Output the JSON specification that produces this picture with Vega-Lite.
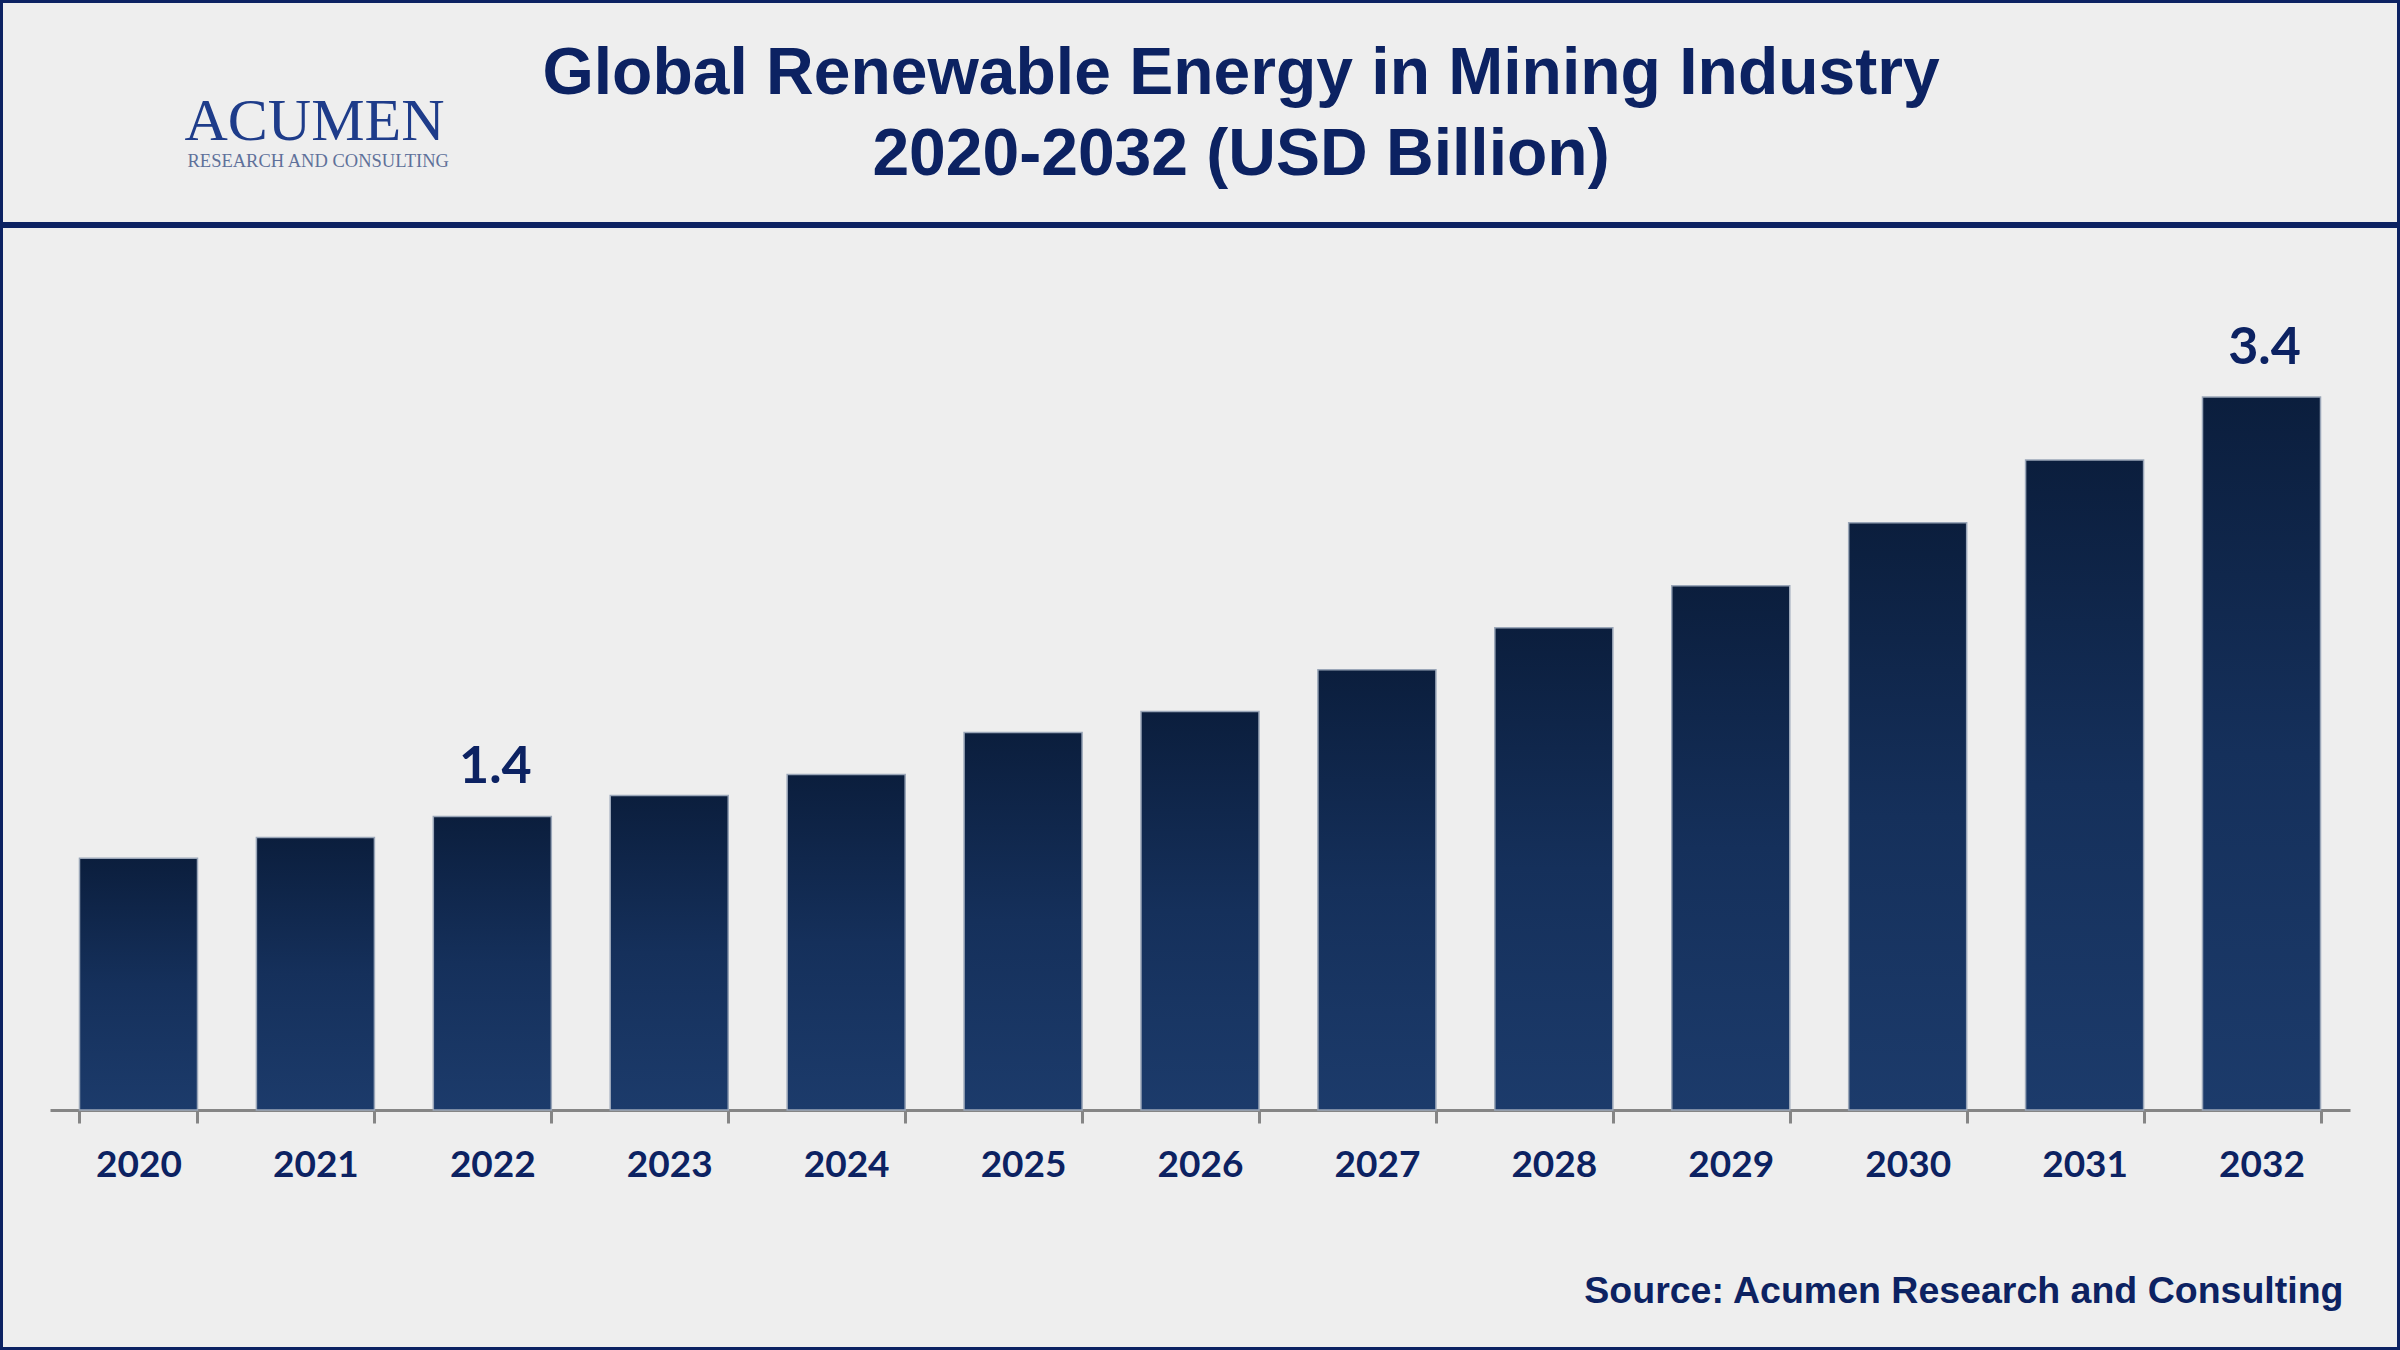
{
  "$schema": "https://vega.github.io/schema/vega-lite/v6.json",
  "width": 2400,
  "height": 1350,
  "autosize": "none",
  "padding": 0,
  "background": "#eeeeee",
  "title": {
    "text": ["Global Renewable Energy in Mining Industry", "2020-2032 (USD Billion)"],
    "font": "Liberation Sans",
    "fontSize": 66,
    "fontWeight": "bold",
    "color": "#0c2262",
    "lineHeight": 81,
    "anchor": "middle",
    "frame": "group",
    "baseline": "top",
    "dx": 41,
    "offset": -189
  },
  "data": {
    "values": [
      {"year": "2020", "value": 1.2},
      {"year": "2021", "value": 1.3},
      {"year": "2022", "value": 1.4},
      {"year": "2023", "value": 1.5},
      {"year": "2024", "value": 1.6},
      {"year": "2025", "value": 1.8},
      {"year": "2026", "value": 1.9},
      {"year": "2027", "value": 2.1},
      {"year": "2028", "value": 2.3},
      {"year": "2029", "value": 2.5},
      {"year": "2030", "value": 2.8},
      {"year": "2031", "value": 3.1},
      {"year": "2032", "value": 3.4}
    ]
  },
  "layer": [
    {
      "encoding": {
        "x": {
          "field": "year",
          "type": "ordinal",
          "scale": {"range": [50, 2350], "paddingInner": 0.333, "paddingOuter": 0.1667},
          "axis": {
            "orient": "bottom",
            "offset": -240,
            "grid": false,
            "domainColor": "#858585",
            "domainWidth": 3,
            "tickColor": "#858585",
            "tickWidth": 3,
            "tickSize": 13,
            "tickBand": "extent",
            "labelAngle": 0,
            "labelFont": "Lato",
            "labelFontWeight": "bold",
            "labelFontSize": 37,
            "labelColor": "#0c2262",
            "labelPadding": 24,
            "title": "Source: Acumen Research and Consulting",
            "titleX": 2343,
            "titleY": 192,
            "titleAlign": "right",
            "titleBaseline": "alphabetic",
            "titleFont": "Liberation Sans",
            "titleFontSize": 37.5,
            "titleFontWeight": "bold",
            "titleColor": "#0c2262"
          }
        },
        "y": {
          "field": "value",
          "type": "quantitative",
          "scale": {"domain": [0, 4], "range": [1110, 271.2], "nice": false},
          "axis": {
            "orient": "left",
            "domain": false,
            "ticks": false,
            "labels": false,
            "grid": false,
            "title": "ACUMEN",
            "titleX": 184,
            "titleY": 139,
            "titleAngle": 0,
            "titleAlign": "left",
            "titleBaseline": "alphabetic",
            "titleFont": "Liberation Serif",
            "titleFontSize": 60,
            "titleFontWeight": "normal",
            "titleColor": "#1e3c8a"
          }
        }
      },
      "layer": [
        {
          "mark": {
            "type": "bar",
            "stroke": "#9aa6b8",
            "strokeWidth": 1.5,
            "color": {
              "gradient": "linear",
              "x1": 0, "y1": 0, "x2": 0, "y2": 1,
              "stops": [
                {"offset": 0, "color": "#0b1e3d"},
                {"offset": 0.5, "color": "#15305b"},
                {"offset": 1, "color": "#1c3b6b"}
              ]
            }
          }
        },
        {
          "transform": [{"filter": "datum.year == '2022' || datum.year == '2032'"}],
          "mark": {
            "type": "text",
            "font": "Lato",
            "fontWeight": "bold",
            "fontSize": 52,
            "color": "#0c2262",
            "baseline": "alphabetic",
            "dx": 3,
            "dy": -33
          },
          "encoding": {
            "text": {"field": "value", "type": "quantitative", "format": ".1f"}
          }
        }
      ]
    },
    {
      "mark": {"type": "rule", "color": "#0c2262", "strokeWidth": 6},
      "encoding": {
        "y": {
          "datum": 1,
          "type": "quantitative",
          "scale": {"domain": [0, 1], "range": [1110, 225], "nice": false},
          "axis": {
            "orient": "right",
            "domain": false,
            "ticks": false,
            "labels": false,
            "grid": false,
            "title": "RESEARCH AND CONSULTING",
            "titleX": -2213,
            "titleY": 166,
            "titleAngle": 0,
            "titleAlign": "left",
            "titleBaseline": "alphabetic",
            "titleFont": "Liberation Serif",
            "titleFontSize": 18.5,
            "titleFontWeight": "normal",
            "titleColor": "#5f719a"
          }
        }
      }
    }
  ],
  "resolve": {"scale": {"y": "independent"}},
  "config": {
    "view": {"stroke": "#0c2262", "strokeWidth": 6}
  }
}
